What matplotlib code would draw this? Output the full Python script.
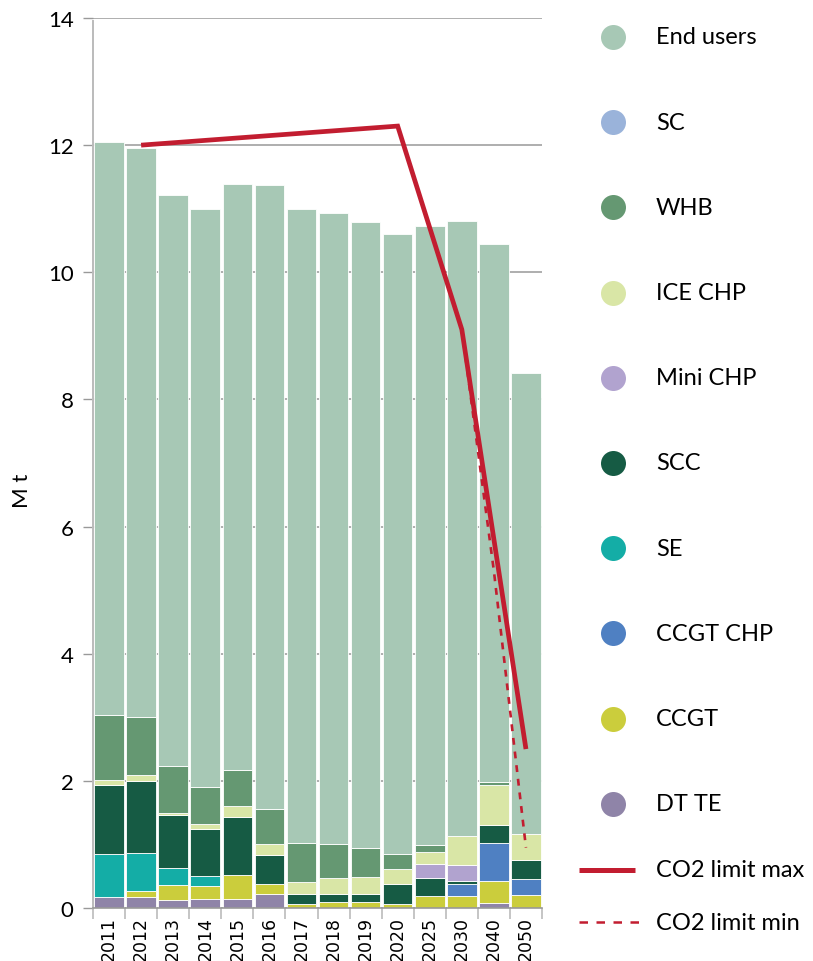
import matplotlib
matplotlib.use("Agg")
import matplotlib.pyplot as plt
from matplotlib.lines import Line2D
import numpy as np

# ---------------- data ----------------
years = ["2011", "2012", "2013", "2014", "2015", "2016", "2017", "2018",
         "2019", "2020", "2025", "2030", "2040", "2050"]

# stacked from bottom to top
dt_te     = [0.17, 0.17, 0.12, 0.14, 0.14, 0.22, 0.00, 0.00, 0.00, 0.00, 0.00, 0.00, 0.08, 0.00]
ccgt      = [0.00, 0.10, 0.24, 0.21, 0.38, 0.16, 0.07, 0.09, 0.09, 0.06, 0.19, 0.19, 0.34, 0.20]
ccgt_chp  = [0.00, 0.00, 0.00, 0.00, 0.00, 0.00, 0.00, 0.00, 0.00, 0.00, 0.00, 0.18, 0.61, 0.26]
se        = [0.68, 0.59, 0.27, 0.15, 0.00, 0.00, 0.00, 0.00, 0.00, 0.00, 0.00, 0.00, 0.00, 0.00]
scc       = [1.09, 1.14, 0.83, 0.75, 0.91, 0.45, 0.155, 0.125, 0.13, 0.31, 0.28, 0.06, 0.27, 0.29]
mini_chp  = [0.00, 0.00, 0.00, 0.00, 0.00, 0.00, 0.00, 0.00, 0.00, 0.00, 0.22, 0.24, 0.00, 0.00]
ice_chp   = [0.08, 0.09, 0.04, 0.07, 0.17, 0.17, 0.185, 0.255, 0.26, 0.25, 0.185, 0.46, 0.63, 0.42]
whb       = [1.02, 0.91, 0.73, 0.59, 0.57, 0.56, 0.62, 0.53, 0.46, 0.23, 0.11, 0.00, 0.05, 0.00]
sc        = [0.00, 0.00, 0.00, 0.00, 0.00, 0.00, 0.00, 0.00, 0.00, 0.00, 0.00, 0.00, 0.00, 0.00]
end_users = [9.01, 8.95, 8.99, 9.09, 9.22, 9.81, 9.96, 9.94, 9.85, 9.76, 9.745, 9.68, 8.46, 7.24]

co2_max_years = ["2012", "2020", "2030", "2050"]
co2_max_vals  = [12.0, 12.3, 9.1, 2.5]
co2_min_years = ["2030", "2040", "2050"]
co2_min_vals  = [9.1, 5.3, 0.95]

series_names = ["DT TE", "CCGT", "CCGT CHP", "SE", "SCC", "Mini CHP",
                "ICE CHP", "WHB", "SC", "End users"]
series_vals = [dt_te, ccgt, ccgt_chp, se, scc, mini_chp, ice_chp, whb, sc, end_users]
series_colors = ["#8F84A8", "#CBCD3C", "#4F80C2", "#14ADA6", "#165B44",
                 "#B1A3CF", "#D9E6A6", "#659872", "#9AB3DA", "#A7C8B5"]

yticks = [0, 2, 4, 6, 8, 10, 12, 14]
red = "#C21D30"

# ---------------- figure ----------------
W, H = 813, 962
fig = plt.figure(figsize=(W / 100, H / 100), dpi=100)
ax = fig.add_axes([93 / W, 1 - 909 / H, 449 / W, 890 / H])

x = np.arange(len(years))
bottom = np.zeros(len(years))
for name, vals, col in zip(series_names, series_vals, series_colors):
    v = np.array(vals, dtype=float)
    ax.bar(x, v, bottom=bottom, width=0.92, color=col,
           edgecolor="white", linewidth=0.6, zorder=2)
    bottom += v

idx = {y: i for i, y in enumerate(years)}
ax.plot([idx[y] for y in co2_max_years], co2_max_vals, color=red, lw=3.4,
        solid_capstyle="butt", solid_joinstyle="miter", zorder=4)
ax.plot([idx[y] for y in co2_min_years], co2_min_vals, color=red, lw=1.9,
        linestyle=(0, (2.6, 2.6)), dash_capstyle="butt", zorder=3)

ax.set_xlim(-0.5, len(years) - 0.5)
ax.set_ylim(0, 14)
ax.set_yticks(yticks)
ax.set_yticklabels([str(t) for t in yticks], fontfamily="Lato", fontsize=16)
ax.tick_params(axis="y", length=7, width=1, color="#999999", pad=7)
ax.grid(axis="y", color="#999999", lw=1.1, zorder=0)
ax.set_axisbelow(True)

ax.set_xticks(x)
ax.set_xticklabels(years, rotation=90, fontfamily="DejaVu Sans", fontsize=12.5)
ax.tick_params(axis="x", which="major", length=0, pad=6)
ax.set_xticks(np.arange(len(years) + 1) - 0.5, minor=True)
ax.tick_params(axis="x", which="minor", length=8, width=1.2, color="#bbbbbb")

for s in ["top", "right"]:
    ax.spines[s].set_visible(False)
ax.spines["left"].set_color("#bbbbbb")
ax.spines["left"].set_linewidth(1.4)
ax.spines["left"].set_bounds(0, 13.95)
ax.spines["bottom"].set_color("#999999")
ax.spines["bottom"].set_linewidth(1.2)

ax.set_ylabel("M t", fontfamily="Lato", fontsize=16)
ax.yaxis.set_label_coords(-61 / 449, 0.47)

# ---------------- legend (manual) ----------------
leg_order = list(range(len(series_names)))[::-1]
y0, dy = 38, 85.2
for k, i in enumerate(leg_order):
    yy = 1 - (y0 + k * dy) / H
    fig.add_artist(Line2D([613 / W], [yy], marker="o", markersize=18,
                          markerfacecolor=series_colors[i], markeredgecolor="none",
                          linestyle="none", transform=fig.transFigure))
    fig.text(656 / W, yy, series_names[i], fontfamily="Lato", fontsize=17,
             va="center", ha="left")

ym = 1 - 870.7 / H
fig.add_artist(Line2D([579 / W, 635 / W], [ym, ym], color=red, lw=3.6,
                      solid_capstyle="butt", transform=fig.transFigure))
fig.text(656 / W, ym, "CO2 limit max", fontfamily="Lato", fontsize=17,
         va="center", ha="left")
yn = 1 - 923.3 / H
fig.add_artist(Line2D([579 / W, 640 / W], [yn, yn], color=red, lw=1.8,
                      linestyle=(0, (3.4, 3.4)), transform=fig.transFigure))
fig.text(656 / W, yn, "CO2 limit min", fontfamily="Lato", fontsize=17,
         va="center", ha="left")

fig.savefig("out.png", dpi=100)
